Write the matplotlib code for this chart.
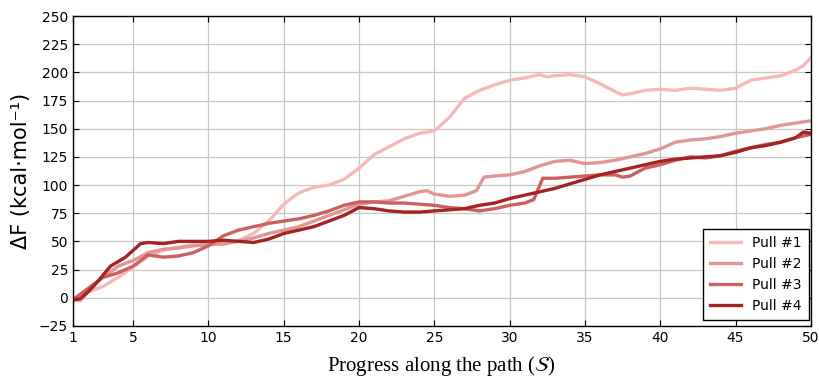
import matplotlib
matplotlib.use('Agg')
import matplotlib.pyplot as plt
import numpy as np

# progress coordinate and free energy per pull
s1 = [1, 1.5, 2, 3, 4, 5, 6, 7, 8, 9, 10, 11, 12, 13, 14, 15, 16, 17, 18, 19, 20,
      21, 22, 23, 24, 25, 26, 27, 28, 29, 30, 31, 32, 32.5, 33, 34, 35, 36, 37,
      37.5, 38, 39, 40, 41, 42, 43, 44, 45, 46, 47, 48, 49, 49.5, 50]
pull1 = [-2, -3, 5, 10, 18, 27, 37, 42, 45, 47, 48, 47, 51, 57, 68, 83, 93, 98, 100, 105, 115,
         127, 134, 141, 146, 148, 160, 177, 184, 189, 193, 195, 198, 196, 197, 198, 196, 190, 183,
         180, 181, 184, 185, 184, 186, 185, 184, 186, 193, 195, 197, 202, 206, 213]

s2 = [1, 2, 3, 4, 5, 6, 7, 8, 9, 10, 11, 12, 13, 14, 15, 16, 17, 18, 19, 20, 21, 22, 23, 24,
      24.5, 25, 26, 27, 27.8, 28.3, 29, 30, 31, 32, 33, 34, 35, 36, 37, 38, 39, 40, 41, 42,
      43, 44, 45, 46, 47, 48, 49, 50]
pull2 = [-2, 8, 18, 28, 33, 40, 43, 44, 46, 47, 48, 50, 53, 57, 60, 63, 68, 73, 78, 83, 85, 86, 90, 94,
         95, 92, 90, 91, 95, 107, 108, 109, 112, 117, 121, 122, 119, 120, 122, 125, 128, 132, 138, 140,
         141, 143, 146, 148, 150, 153, 155, 157]

s3 = [1, 2, 3, 4, 5, 5.5, 6, 6.5, 7, 8, 9, 10, 11, 12, 13, 14, 15, 16, 17, 18, 19, 20, 21, 22,
      23, 24, 25, 26, 27, 28, 29, 30, 31, 31.6, 32.2, 33, 34, 35, 36, 37, 37.5, 38, 39, 40, 41,
      42, 43, 44, 45, 46, 47, 48, 49, 50]
pull3 = [-2, 8, 18, 22, 28, 33, 38, 37, 36, 37, 40, 46, 55, 60, 63, 66, 68, 70, 73, 77, 82, 85, 85, 84,
         84, 83, 82, 80, 79, 77, 79, 82, 84, 87, 106, 106, 107, 108, 109, 109, 107, 108, 115, 118, 122,
         125, 124, 126, 130, 133, 136, 138, 142, 145]

s4 = [1, 1.5, 2, 2.5, 3, 3.5, 4, 4.5, 5, 5.5, 6, 7, 8, 9, 10, 11, 12, 13, 14, 15, 16, 17, 18, 19,
      20, 21, 22, 23, 24, 25, 26, 27, 28, 29, 30, 31, 32, 33, 34, 35, 36, 37, 38, 39, 40, 41, 42,
      43, 44, 45, 46, 47, 48, 49, 49.5, 50]
pull4 = [-2, -1, 5, 12, 20, 28, 32, 36, 42, 48, 49, 48, 50, 50, 50, 51, 50, 49, 52, 57, 60, 63, 68, 73,
         80, 79, 77, 76, 76, 77, 78, 79, 82, 84, 88, 91, 94, 97, 101, 105, 109, 112, 115, 118, 121, 123, 124,
         125, 126, 129, 133, 135, 138, 142, 147, 146]

labels = ['Pull #1', 'Pull #2', 'Pull #3', 'Pull #4']
colors = ['#f6b8b8', '#e19595', '#cc6060', '#a42424']

fig = plt.figure(figsize=(8.19, 3.82), dpi=100)
ax = fig.add_axes([0.089, 0.147, 0.901, 0.811])

for s, y, lab, c in zip([s1, s2, s3, s4], [pull1, pull2, pull3, pull4], labels, colors):
    ax.plot(s, y, color=c, lw=2.4, label=lab, solid_joinstyle='round')

ax.set_xlim(1, 50)
ax.set_ylim(-25, 250)
ax.set_xticks([1, 5, 10, 15, 20, 25, 30, 35, 40, 45, 50])
ax.set_yticks(np.arange(-25, 251, 25))
ax.grid(True, color='0.78', lw=0.9)
ax.set_axisbelow(True)
ax.tick_params(direction='in', top=True, right=True, length=4, labelsize=10)
for sp in ax.spines.values():
    sp.set_linewidth(1.0)

ax.set_ylabel('ΔF (kcal·mol⁻¹)', fontsize=15, labelpad=6)
plt.rcParams['mathtext.fontset'] = 'stix'
ax.set_xlabel(r'Progress along the path ($\mathcal{S}$)', fontsize=15,
              family='Liberation Serif', labelpad=7)

leg = ax.legend(loc='lower right', bbox_to_anchor=(0.997, 0.02), borderaxespad=0,
                fancybox=False, framealpha=1, edgecolor='black',
                fontsize=10, handlelength=2.2, borderpad=0.5)
leg.get_frame().set_linewidth(1.0)

fig.savefig('out.png', dpi=100)
